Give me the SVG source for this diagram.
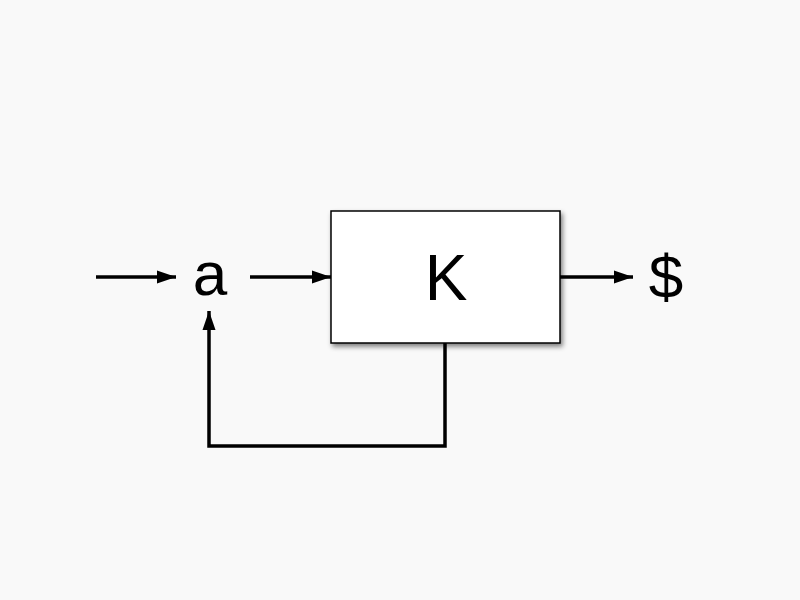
<svg xmlns="http://www.w3.org/2000/svg" width="800" height="600" viewBox="0 0 800 600">
<defs>
<marker id="ah" markerUnits="userSpaceOnUse" markerWidth="20" markerHeight="16" refX="19" refY="8" orient="auto">
<path d="M0,1.5 L19,8 L0,14.5 Z" fill="#000"/>
</marker>
<filter id="sh" x="-10%" y="-10%" width="130%" height="130%">
<feGaussianBlur in="SourceAlpha" stdDeviation="2.5"/>
<feOffset dx="2" dy="3"/>
<feComponentTransfer><feFuncA type="linear" slope="0.5"/></feComponentTransfer>
<feMerge><feMergeNode/><feMergeNode in="SourceGraphic"/></feMerge>
</filter>
<style>
.ln{stroke:#000;stroke-width:3.5;fill:none}
.lbl{font-family:"Liberation Sans",Arial,sans-serif;fill:#000;text-anchor:middle}
</style>
</defs>
<rect width="800" height="600" fill="#f9f9f9"/>
<g id="connectors">
<line class="ln" x1="96" y1="277" x2="176" y2="277" marker-end="url(#ah)"/>
<line class="ln" x1="250" y1="277" x2="331" y2="277" marker-end="url(#ah)"/>
<line class="ln" x1="560" y1="277" x2="633" y2="277" marker-end="url(#ah)"/>
<polyline class="ln" points="445,343 445,446 209,446 209,311" marker-end="url(#ah)"/>
</g>
<g id="node-a"><text class="lbl" x="210" y="295" font-size="62">a</text></g>
<g id="node-K">
<rect x="331" y="211" width="229" height="132" fill="#fff" stroke="#000" stroke-width="1.5" filter="url(#sh)"/>
<text class="lbl" x="446" y="300" font-size="64">K</text>
</g>
<g id="node-dollar"><text class="lbl" x="666" y="298" font-size="62">$</text></g>
</svg>
